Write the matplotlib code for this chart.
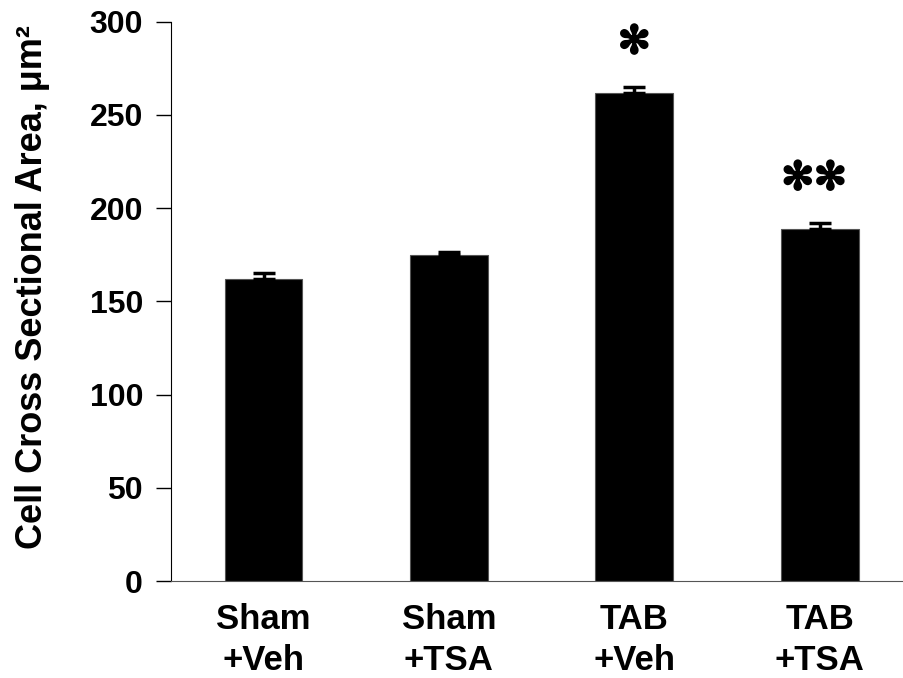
import matplotlib
matplotlib.use("Agg")
import matplotlib.pyplot as plt
import matplotlib.patheffects as pe
import numpy as np

groups = ["Sham\n+Veh", "Sham\n+TSA", "TAB\n+Veh", "TAB\n+TSA"]
area = [162, 175, 262, 189]
sem = [3, 1.5, 3, 3]
marks = ["", "", "\u273b", "\u273b\u273b"]

plt.rcParams["font.family"] = ["Liberation Sans", "DejaVu Sans"]
plt.rcParams["font.weight"] = "bold"

fig = plt.figure(figsize=(9.04, 6.78), dpi=100)
ax = fig.add_axes([0.189, 0.143, 0.81, 0.825])

x = np.arange(len(groups))
ax.bar(x, area, width=0.42, color="black", edgecolor="#555555", linewidth=0.8, zorder=2)
ax.errorbar(x, area, yerr=[np.zeros(len(sem)), sem], fmt="none", ecolor="black",
            elinewidth=2.5, capsize=8, capthick=2.5, zorder=3)

for xi, v, s, m in zip(x, area, sem, marks):
    if m:
        ax.text(xi - 0.03 * (len(m) - 1), v + s + 24, m, ha="center", va="center",
                fontsize=28, fontweight="normal", family="DejaVu Sans",
                path_effects=[pe.withStroke(linewidth=1.6, foreground="black")])

ax.set_xlim(-0.5, 3.45)
ax.set_ylim(0, 300)
ax.set_yticks(np.arange(0, 301, 50))
ax.set_xticks(x)
ax.set_xticklabels(groups, fontsize=25, fontweight="bold", linespacing=1.3)
ax.tick_params(axis="x", length=0, pad=16)
ax.tick_params(axis="y", length=11, width=1, direction="out", labelsize=23, pad=9)
for lab in ax.get_yticklabels():
    lab.set_fontweight("bold")

ax.spines["top"].set_visible(False)
ax.spines["right"].set_visible(False)
ax.spines["bottom"].set_color("#555555")
ax.spines["left"].set_color("black")

ax.set_ylabel("Cell Cross Sectional Area, \u03bcm\u00b2", fontsize=26, fontweight="bold", labelpad=20)
ax.yaxis.set_label_coords(-0.165, 0.525)

fig.savefig("out.png", dpi=100)
